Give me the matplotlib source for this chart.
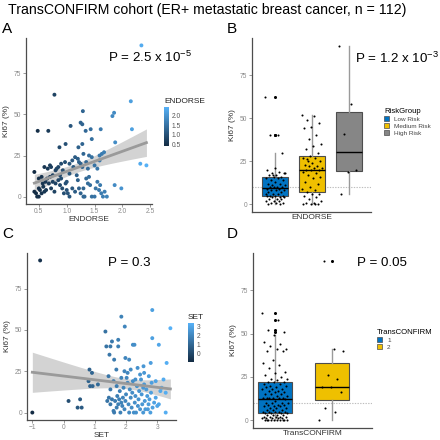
import numpy as np
import matplotlib
matplotlib.use("Agg")
import matplotlib.pyplot as plt
from matplotlib.colors import LinearSegmentedColormap
from matplotlib.patches import Patch

plt.rcParams['font.family'] = ['Liberation Sans', 'DejaVu Sans']
plt.rcParams['mathtext.fontset'] = 'custom'
plt.rcParams['mathtext.rm'] = 'Liberation Sans'
plt.rcParams['mathtext.it'] = 'Liberation Sans'
plt.rcParams['mathtext.bf'] = 'Liberation Sans'

# ---- data ----
# panel A: ENDORSE score vs Ki67
endorse = [2.34, 0.78, 2.15, 0.48, 0.67, 1.29, 2.17, 1.82, 1.85, 1.07, 1.25, 1.28, 1.43, 1.61, 1.34,
           1.45, 1.87, 0.87, 0.98, 1.21, 1.28, 1.63, 1.59, 1.67, 1.59, 2.32, 2.43, 1.86, 1.98,
           0.42, 0.50, 0.55, 0.60, 0.66, 0.70, 0.72, 0.75, 0.80, 0.82, 0.85, 0.90, 0.88, 0.93,
           0.97, 1.05, 1.10, 1.12, 1.15, 1.20, 1.22, 1.25, 1.28, 1.30, 1.35, 1.38, 1.40, 1.45,
           1.50, 1.55, 1.18, 1.05, 0.62, 0.57, 0.50,
           0.42, 0.45, 0.47, 0.50, 0.52, 0.55, 0.58, 0.60, 0.63, 0.68, 0.72, 0.75, 0.78, 0.80,
           0.85, 0.88, 0.92, 0.95, 0.98, 1.00, 1.02, 1.05, 1.10, 1.15, 1.20, 1.22, 1.30, 1.32,
           1.35, 1.38, 1.40, 1.42, 1.45, 1.50, 1.52, 1.55, 1.58, 1.60, 1.62, 1.65, 1.68, 1.72,
           1.30, 1.25, 0.70, 0.65, 0.90, 1.00]
ki67_a = [92, 62, 58, 40, 40, 52, 41, 49, 51, 43, 45, 44, 41, 41, 40,
          35, 33, 30, 32, 30, 32, 26, 25, 27, 22, 20, 19, 7, 5,
          15, 11, 12, 18, 17, 19, 18, 13, 16, 17, 18, 20, 13, 16,
          21, 20, 22, 18, 24, 23, 21, 20, 18, 26, 21, 17, 25, 24,
          19, 17, 13, 14, 9, 8, 5,
          3, 2, 0, 0, 4, 2, 6, 3, 4, 8, 5, 9, 3, 8,
          10, 7, 5, 2, 8, 4, 2, 0, 5, 3, 10, 5, 0, 0,
          11, 8, 12, 7, 0, 0, 5, 9, 4, 7, 2, 0, 3, 0,
          5, 2, 12, 11, 11, 9]

# panel C: SET score vs Ki67
set_score = [-0.75, -1.00, 0.16, 0.53, 0.45, 0.58, 0.83, 0.91, 0.85, 0.93, 0.80, 1.10,
             1.34, 1.37, 1.50, 1.55, 1.85, 1.96, 1.75, 1.75, 1.47, 1.62, 1.44, 1.69, 1.98, 2.10,
             2.22, 2.27, 2.37, 2.84, 2.84, 3.05, 3.42, 3.30, 2.79, 2.56, 2.58, 2.73, 2.95, 3.20,
             3.27, 3.27, 3.14,
             1.40, 1.45, 1.50, 1.55, 1.60, 1.62, 1.65, 1.70, 1.72, 1.75, 1.78, 1.80, 1.82, 1.85,
             1.88, 1.90, 1.92, 1.95, 1.98, 2.00, 2.02, 2.05, 2.08, 2.10, 2.12, 2.15, 2.18, 2.20,
             2.22, 2.25, 2.28, 2.30, 2.32, 2.35, 2.38, 2.40, 2.42, 2.45, 2.48, 2.50, 2.52, 2.55,
             2.58, 2.60, 2.62, 2.65, 2.68, 2.70, 2.72, 2.75, 2.78, 2.80, 2.82, 2.85, 2.90, 2.95,
             3.00, 3.05, 3.10, 1.50, 1.60, 1.70, 1.85, 1.95, 2.05, 2.15, 2.30, 2.45, 2.55]
ki67_c = [92, 0, 7, 8, 3, 3, 26, 24, 16, 16, 19, 17,
          49, 40, 40, 43, 58, 52, 44, 40, 35, 32, 22, 26, 33, 32,
          41, 41, 27, 62, 45, 41, 51, 30, 30, 28, 24, 22, 19, 20,
          12, 0, 15,
          7, 9, 5, 8, 1, 0, 7, 3, 10, 5, 8, 13, 0, 6,
          4, 9, 15, 2, 7, 11, 21, 18, 5, 0, 14, 9, 3, 12,
          19, 0, 6, 10, 0, 16, 4, 8, 13, 2, 20, 11, 5, 0,
          17, 7, 2, 14, 10, 2, 5, 8, 0, 12, 18, 3, 6, 9,
          4, 5, 13, 14, 19, 16, 21, 25, 24, 26, 20, 23, 15]

# panel B: Ki67 by ENDORSE risk group
risk_groups = ['Low Risk', 'Medium Risk', 'High Risk']
ki67_low = [62, 40, 40, 30, 21, 20, 19, 18, 18, 17, 17, 16, 16, 15, 15, 14, 14, 13, 12, 12,
            11, 11, 10, 10, 10, 10, 9, 9, 8, 8, 8, 7, 7, 6, 6, 6, 5, 5, 5, 5,
            4, 4, 4, 3, 3, 3, 2, 2, 2, 1, 1, 1, 0, 0, 17, 18]
ki67_medium = [52, 51, 49, 47, 45, 44, 40, 38, 35, 34, 32, 30, 28, 27, 27, 26, 25, 24, 23, 22,
               22, 21, 21, 20, 20, 20, 19, 18, 17, 16, 15, 13, 12, 10, 9, 8, 7, 6, 6, 5,
               4, 3, 2, 1, 1, 0, 0, 0, 0, 25]
ki67_high = [92, 58, 41, 20, 19, 6]

# panel D: Ki67 by TransCONFIRM cluster
clusters = ['1', '2']
ki67_cl1 = [62, 58, 52, 51, 49, 45, 44, 43, 41, 41, 40, 40, 35, 33, 32, 30, 28, 27, 26, 25,
            24, 24, 23, 22, 22, 22, 21, 21, 20, 20,
            19, 19, 18, 18, 18, 17, 17, 16, 16, 15, 15, 15, 14, 14, 13, 13, 13,
            13, 13, 13, 12, 11, 10, 10, 10, 10, 9, 9, 9, 8, 8, 8, 7, 7, 7, 6, 6, 6, 5, 5, 5, 5, 5,
            4, 4, 4, 4, 3, 3, 3, 3, 2, 2, 2, 2, 2, 1, 1, 1, 1, 1, 0, 0, 0, 0, 0, 0, 0, 0, 0, 0]
ki67_cl2 = [0, 5, 7, 16, 19, 19, 24, 26, 40, 41, 92]

p_texts = [r'P = 2.5 x 10$^{-5}$', r'P = 1.2 x 10$^{-3}$', 'P = 0.3', 'P = 0.05']

# ---- style ----
W = H = 440.0
cmap = LinearSegmentedColormap.from_list('gg', ['#132B43', '#56B1F7'])
jco = ['#0073C2', '#EFC000', '#868686']
axis_col = '#4d4d4d'
tick_col = '#8a8a8a'

fig = plt.figure(figsize=(4.4, 4.4), dpi=100)


def box(l, t, r, b):
    return [l / W, 1 - b / H, (r - l) / W, (b - t) / H]


def style_ax(ax, xticks=True):
    for s in ['top', 'right']:
        ax.spines[s].set_visible(False)
    for s in ['left', 'bottom']:
        ax.spines[s].set_color(axis_col)
        ax.spines[s].set_linewidth(0.9)
    ax.tick_params(labelsize=4.8, colors=tick_col, length=2, width=0.6, pad=1.2)
    if not xticks:
        ax.set_xticks([])
    ax.set_ylim(-4.5, 96.5)
    ax.set_yticks([0, 25, 50, 75])
    ax.set_ylabel('Ki67 (%)', fontsize=6, color='#333333', labelpad=3)


def scatter_panel(ax, x, y, xlabel, xlim, xticks):
    x = np.array(x, float)
    y = np.array(y, float)
    n = len(x)
    b1, b0 = np.polyfit(x, y, 1)
    resid = y - (b0 + b1 * x)
    s = np.sqrt(np.sum(resid ** 2) / (n - 2))
    xs = np.linspace(x.min(), x.max(), 80)
    se = s * np.sqrt(1 / n + (xs - x.mean()) ** 2 / np.sum((x - x.mean()) ** 2))
    fit = b0 + b1 * xs
    ax.fill_between(xs, fit - 1.98 * se, fit + 1.98 * se, color='#c8c8c8', alpha=0.8, lw=0, zorder=1)
    sc = ax.scatter(x, y, c=x, cmap=cmap, s=8, lw=0, zorder=2)
    ax.plot(xs, fit, color='#9a9a9a', lw=2, zorder=3)
    style_ax(ax)
    ax.set_xlim(*xlim)
    ax.set_xticks(xticks)
    ax.set_xlabel(xlabel, fontsize=6, color='#333333', labelpad=0.5)
    return sc


def jitter(n, width):
    # deterministic spread of point positions inside the box
    return ((np.arange(n) * 0.6180339887) % 1 - 0.5) * width


def box_panel(ax, groups, colors, box_w, xlabel, xlim):
    pos = np.arange(1, len(groups) + 1)
    bp = ax.boxplot(groups, positions=pos, widths=box_w, patch_artist=True,
                    whis=1.5, manage_ticks=False,
                    flierprops=dict(marker='o', markerfacecolor='black', markeredgecolor='none',
                                    markersize=2.2),
                    medianprops=dict(color='black', lw=1),
                    whiskerprops=dict(color='#9a9a9a', lw=1),
                    capprops=dict(visible=False),
                    boxprops=dict(edgecolor='#4d4d4d', lw=0.8))
    for patch, c in zip(bp['boxes'], colors):
        patch.set_facecolor(c)
    ax.axhline(10, color='#bdbdbd', ls=(0, (1.2, 1.2)), lw=0.8, zorder=0)
    for p, g in zip(pos, groups):
        ax.scatter(p + jitter(len(g), box_w * 0.75), g, s=2.2, color='black', lw=0, zorder=4)
    style_ax(ax, xticks=False)
    ax.set_xlim(*xlim)
    ax.set_xlabel(xlabel, fontsize=6, color='#333333', labelpad=1.5)
    return bp


def legend(ax, colors, labels, title, x, y):
    ax.legend([Patch(facecolor=c, edgecolor='#4d4d4d', lw=0.5) for c in colors], labels,
              loc='upper left', bbox_to_anchor=(x / W, 1 - y / H), bbox_transform=fig.transFigure,
              frameon=False, fontsize=4.6, title=title, title_fontsize=5.6,
              handlelength=0.75, handleheight=0.75, labelspacing=0.2, borderpad=0,
              handletextpad=0.8, alignment='left', labelcolor='#444444')


# A
axA = fig.add_axes(box(26, 38, 152, 204))
scA = scatter_panel(axA, endorse, ki67_a, 'ENDORSE', (0.27, 2.53), [0.5, 1.0, 1.5, 2.0, 2.5])
caxA = fig.add_axes(box(164, 107, 169, 146))
cbA = fig.colorbar(scA, cax=caxA, ticks=[0.5, 1.0, 1.5, 2.0])
cbA.ax.set_yticklabels(['0.5', '1.0', '1.5', '2.0'])

# C
axC = fig.add_axes(box(26.7, 253, 176, 420))
scC = scatter_panel(axC, set_score, ki67_c, 'SET', (-1.18, 3.6), [-1, 0, 1, 2, 3])
caxC = fig.add_axes(box(188, 323, 194, 362))
cbC = fig.colorbar(scC, cax=caxC, ticks=[0, 1, 2, 3])

for cb, title in [(cbA, 'ENDORSE'), (cbC, 'SET')]:
    cb.outline.set_visible(False)
    cb.ax.tick_params(labelsize=4.8, colors='#555555', length=0, pad=2)
    cb.ax.set_title(title, fontsize=6, loc='left', pad=3, color='#222222')

# B
axB = fig.add_axes(box(252, 38, 371, 212))
box_panel(axB, [ki67_low, ki67_medium, ki67_high], jco, 0.72, 'ENDORSE', (0.37, 3.6))
legend(axB, jco, risk_groups, 'RiskGroup', 381, 105)

# D
axD = fig.add_axes(box(252.7, 253, 372, 428))
box_panel(axD, [ki67_cl1, ki67_cl2], jco[:2], 0.6, 'TransCONFIRM', (0.61, 2.7))
legend(axD, jco[:2], clusters, 'TransCONFIRM', 374, 326)

# texts
fig.text(8 / W, 1 - 10 / H, 'TransCONFIRM cohort (ER+ metastatic breast cancer, n = 112)',
         fontsize=10.2, va='center', ha='left')
for letter, (x, y) in zip('ABCD', [(2, 29), (227, 29), (2, 234), (227, 234)]):
    fig.text(x / W, 1 - y / H, letter, fontsize=11, va='center', ha='left')
for txt, (x, y) in zip(p_texts, [(108, 57), (355, 58), (108, 263), (357, 263)]):
    fig.text(x / W, 1 - y / H, txt, fontsize=9.6, va='center', ha='left')

fig.savefig('out.png', dpi=100)
